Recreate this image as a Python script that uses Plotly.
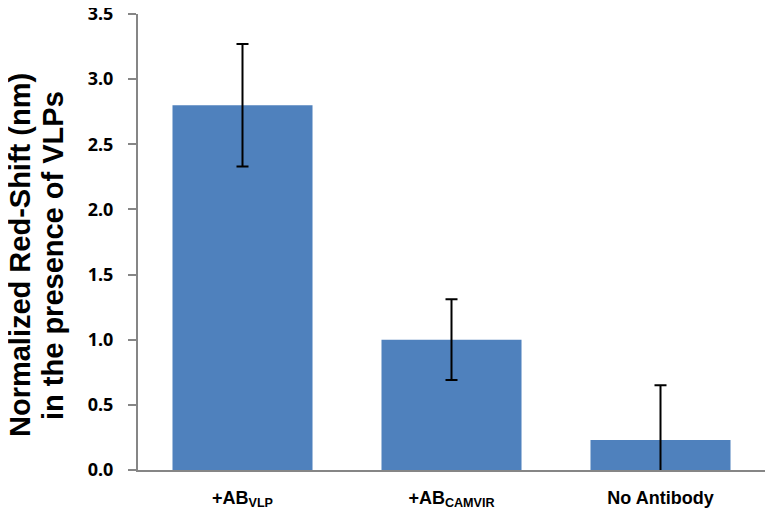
import plotly.graph_objects as go

categories = ["+AB<sub>VLP</sub>", "+AB<sub>CAMVIR</sub>", "No Antibody"]
values = [2.80, 1.00, 0.23]
errors = [0.47, 0.31, 0.42]
y_ticks = [0.0, 0.5, 1.0, 1.5, 2.0, 2.5, 3.0, 3.5]
y_title_lines = ["Normalized Red-Shift (nm)", "in the presence of VLPs"]

fig = go.Figure(go.Bar(
    x=categories, y=values,
    marker=dict(color="#4F81BD", line=dict(width=0)),
    error_y=dict(type="data", array=errors, visible=True, color="black", thickness=2, width=6),
))

title_font = dict(family="Liberation Sans, Arial", size=29, color="black", weight="bold")
annotations = [
    dict(text=y_title_lines[0], textangle=-90, xref="paper", yref="paper", x=0, y=0.5,
         xanchor="center", yanchor="middle", xshift=-118, yshift=-13, showarrow=False,
         font=title_font, borderpad=0),
    dict(text=y_title_lines[1], textangle=-90, xref="paper", yref="paper", x=0, y=0.5,
         xanchor="center", yanchor="middle", xshift=-85, yshift=-14, showarrow=False,
         font=title_font, borderpad=0),
]

fig.update_layout(
    width=774, height=517,
    margin=dict(l=130, r=17, t=6, b=55, autoexpand=False),
    plot_bgcolor="white", paper_bgcolor="white",
    bargap=0.33,
    showlegend=False,
    font=dict(family="Liberation Sans, Arial", color="black"),
    annotations=annotations,
)
fig.update_yaxes(
    range=[0, 3.5], tickvals=y_ticks, ticktext=[f"<b>{v:.1f}</b>" for v in y_ticks],
    showgrid=False, zeroline=False, automargin=False, ticklabeloverflow="allow",
    showline=True, linecolor="#868686", linewidth=2,
    ticks="outside", ticklen=8, tickcolor="#868686", tickwidth=2,
    ticklabelstandoff=11,
    tickfont=dict(family="Noto Sans", size=18, color="black"),
)
fig.update_xaxes(
    showgrid=False, showline=True, linecolor="#868686", linewidth=2, automargin=False,
    ticks="", ticklabelstandoff=10, ticklabeloverflow="allow",
    tickfont=dict(family="Liberation Sans, Arial", size=18, color="black", weight="bold"),
)

fig.write_html("out.html")
